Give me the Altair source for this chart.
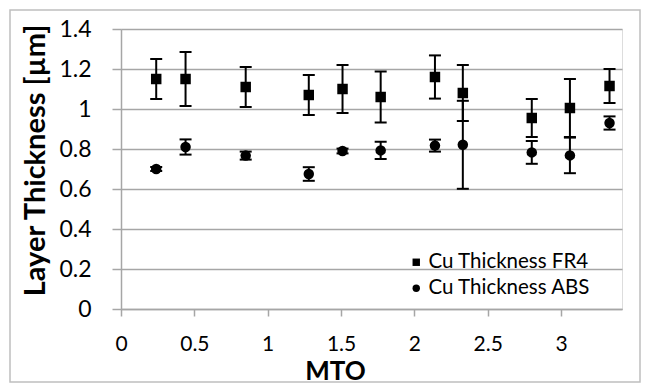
import altair as alt
import pandas as pd

# Data
mto = [0.24, 0.44, 0.85, 1.28, 1.51, 1.77, 2.14, 2.33, 2.80, 3.06, 3.33]
fr4 = [1.15, 1.15, 1.11, 1.07, 1.10, 1.06, 1.16, 1.08, 0.955, 1.005, 1.115]
fr4_err = [0.10, 0.135, 0.10, 0.10, 0.12, 0.127, 0.108, 0.14, 0.095, 0.145, 0.085]
abs_ = [0.70, 0.81, 0.767, 0.675, 0.79, 0.793, 0.817, 0.821, 0.783, 0.768, 0.93]
abs_err = [0.01, 0.038, 0.02, 0.034, 0.012, 0.043, 0.03, 0.22, 0.057, 0.089, 0.033]
series_names = ["Cu Thickness FR4", "Cu Thickness ABS"]
x_ticks = [0, 0.5, 1, 1.5, 2, 2.5, 3]
y_ticks = [0, 0.2, 0.4, 0.6, 0.8, 1.0, 1.2, 1.4]

rows = []
for name, ys, es in [(series_names[0], fr4, fr4_err), (series_names[1], abs_, abs_err)]:
    for xv, yv, ev in zip(mto, ys, es):
        rows.append({"x": xv, "y": yv, "lo": yv - ev, "hi": yv + ev, "series": name})
df = pd.DataFrame(rows)

FONT = "Lato"
GRID = "#a6a6a6"

xscale = alt.Scale(domain=[0, 3.415], nice=False, zero=False)
yscale = alt.Scale(domain=[0, 1.4], nice=False)

xaxis = alt.Axis(values=x_ticks, format="~g", title="MTO", grid=False, tickSize=7, tickColor=GRID,
                 domainColor=GRID, domainWidth=1.5, tickWidth=1.5, labelPadding=17,
                 labelFontSize=21, labelColor="black", labelFont=FONT, labelOverlap=False,
                 labelFlush=False,
                 titleFont=FONT, titleFontSize=26, titleFontWeight="bold", titleColor="black",
                 titleX=214, titleY=62, titleBaseline="middle", titleAlign="center")
yaxis = alt.Axis(values=y_ticks, format="~g", title="Layer Thickness [µm]", grid=True, gridColor=GRID,
                 gridWidth=1.5, tickSize=9, tickColor=GRID, tickWidth=1.5,
                 domainColor=GRID, domainWidth=1.5, labelPadding=21, labelOverlap=False,
                 labelFontSize=23, labelColor="black", labelFont=FONT,
                 titleFont=FONT, titleFontSize=29, titleFontWeight="bold", titleColor="black",
                 titleX=-86, titleY=131, titleAngle=-90, titleBaseline="middle", titleAlign="center")


def X(field):
    return alt.X(field, type="quantitative", scale=xscale, axis=xaxis)


def Y(field):
    return alt.Y(field, type="quantitative", scale=yscale, axis=yaxis)


base = alt.Chart(df)

frame = alt.Chart(pd.DataFrame({"a": [0]})).mark_rect(
    fillOpacity=0, stroke="#bfbfbf", strokeWidth=1.5
).encode(x=alt.value(-111), x2=alt.value(519), y=alt.value(-19), y2=alt.value(353))

bars = base.mark_rule(color="black", strokeWidth=2).encode(x=X("x"), y=Y("lo"), y2="hi:Q")
cap_hi = base.mark_tick(orient="horizontal", color="black", size=12, thickness=2, opacity=1).encode(
    x=X("x"), y=Y("hi"))
cap_lo = base.mark_tick(orient="horizontal", color="black", size=12, thickness=2, opacity=1).encode(
    x=X("x"), y=Y("lo"))
points = base.mark_point(filled=True, opacity=1, color="black", size=110).encode(
    x=X("x"),
    y=Y("y"),
    shape=alt.Shape("series:N", scale=alt.Scale(domain=series_names, range=["square", "circle"]),
                    legend=alt.Legend(title=None, orient="none", legendX=285, legendY=223,
                                      labelFont=FONT, labelFontSize=20.5, labelColor="black",
                                      labelLimit=0,
                                      symbolSize=55, symbolFillColor="black", symbolStrokeColor="black",
                                      rowPadding=5, labelOffset=2, padding=0)),
)

chart = alt.layer(frame, bars, cap_hi, cap_lo, points).properties(
    width=501, height=280,
    autosize=alt.AutoSizeParams(type="none"),
    padding={"left": 113, "top": 21, "right": 20, "bottom": 78},
).configure_view(stroke=None).configure(background="white")

chart.save("out.html", embed_options={"renderer": "svg", "actions": False})
